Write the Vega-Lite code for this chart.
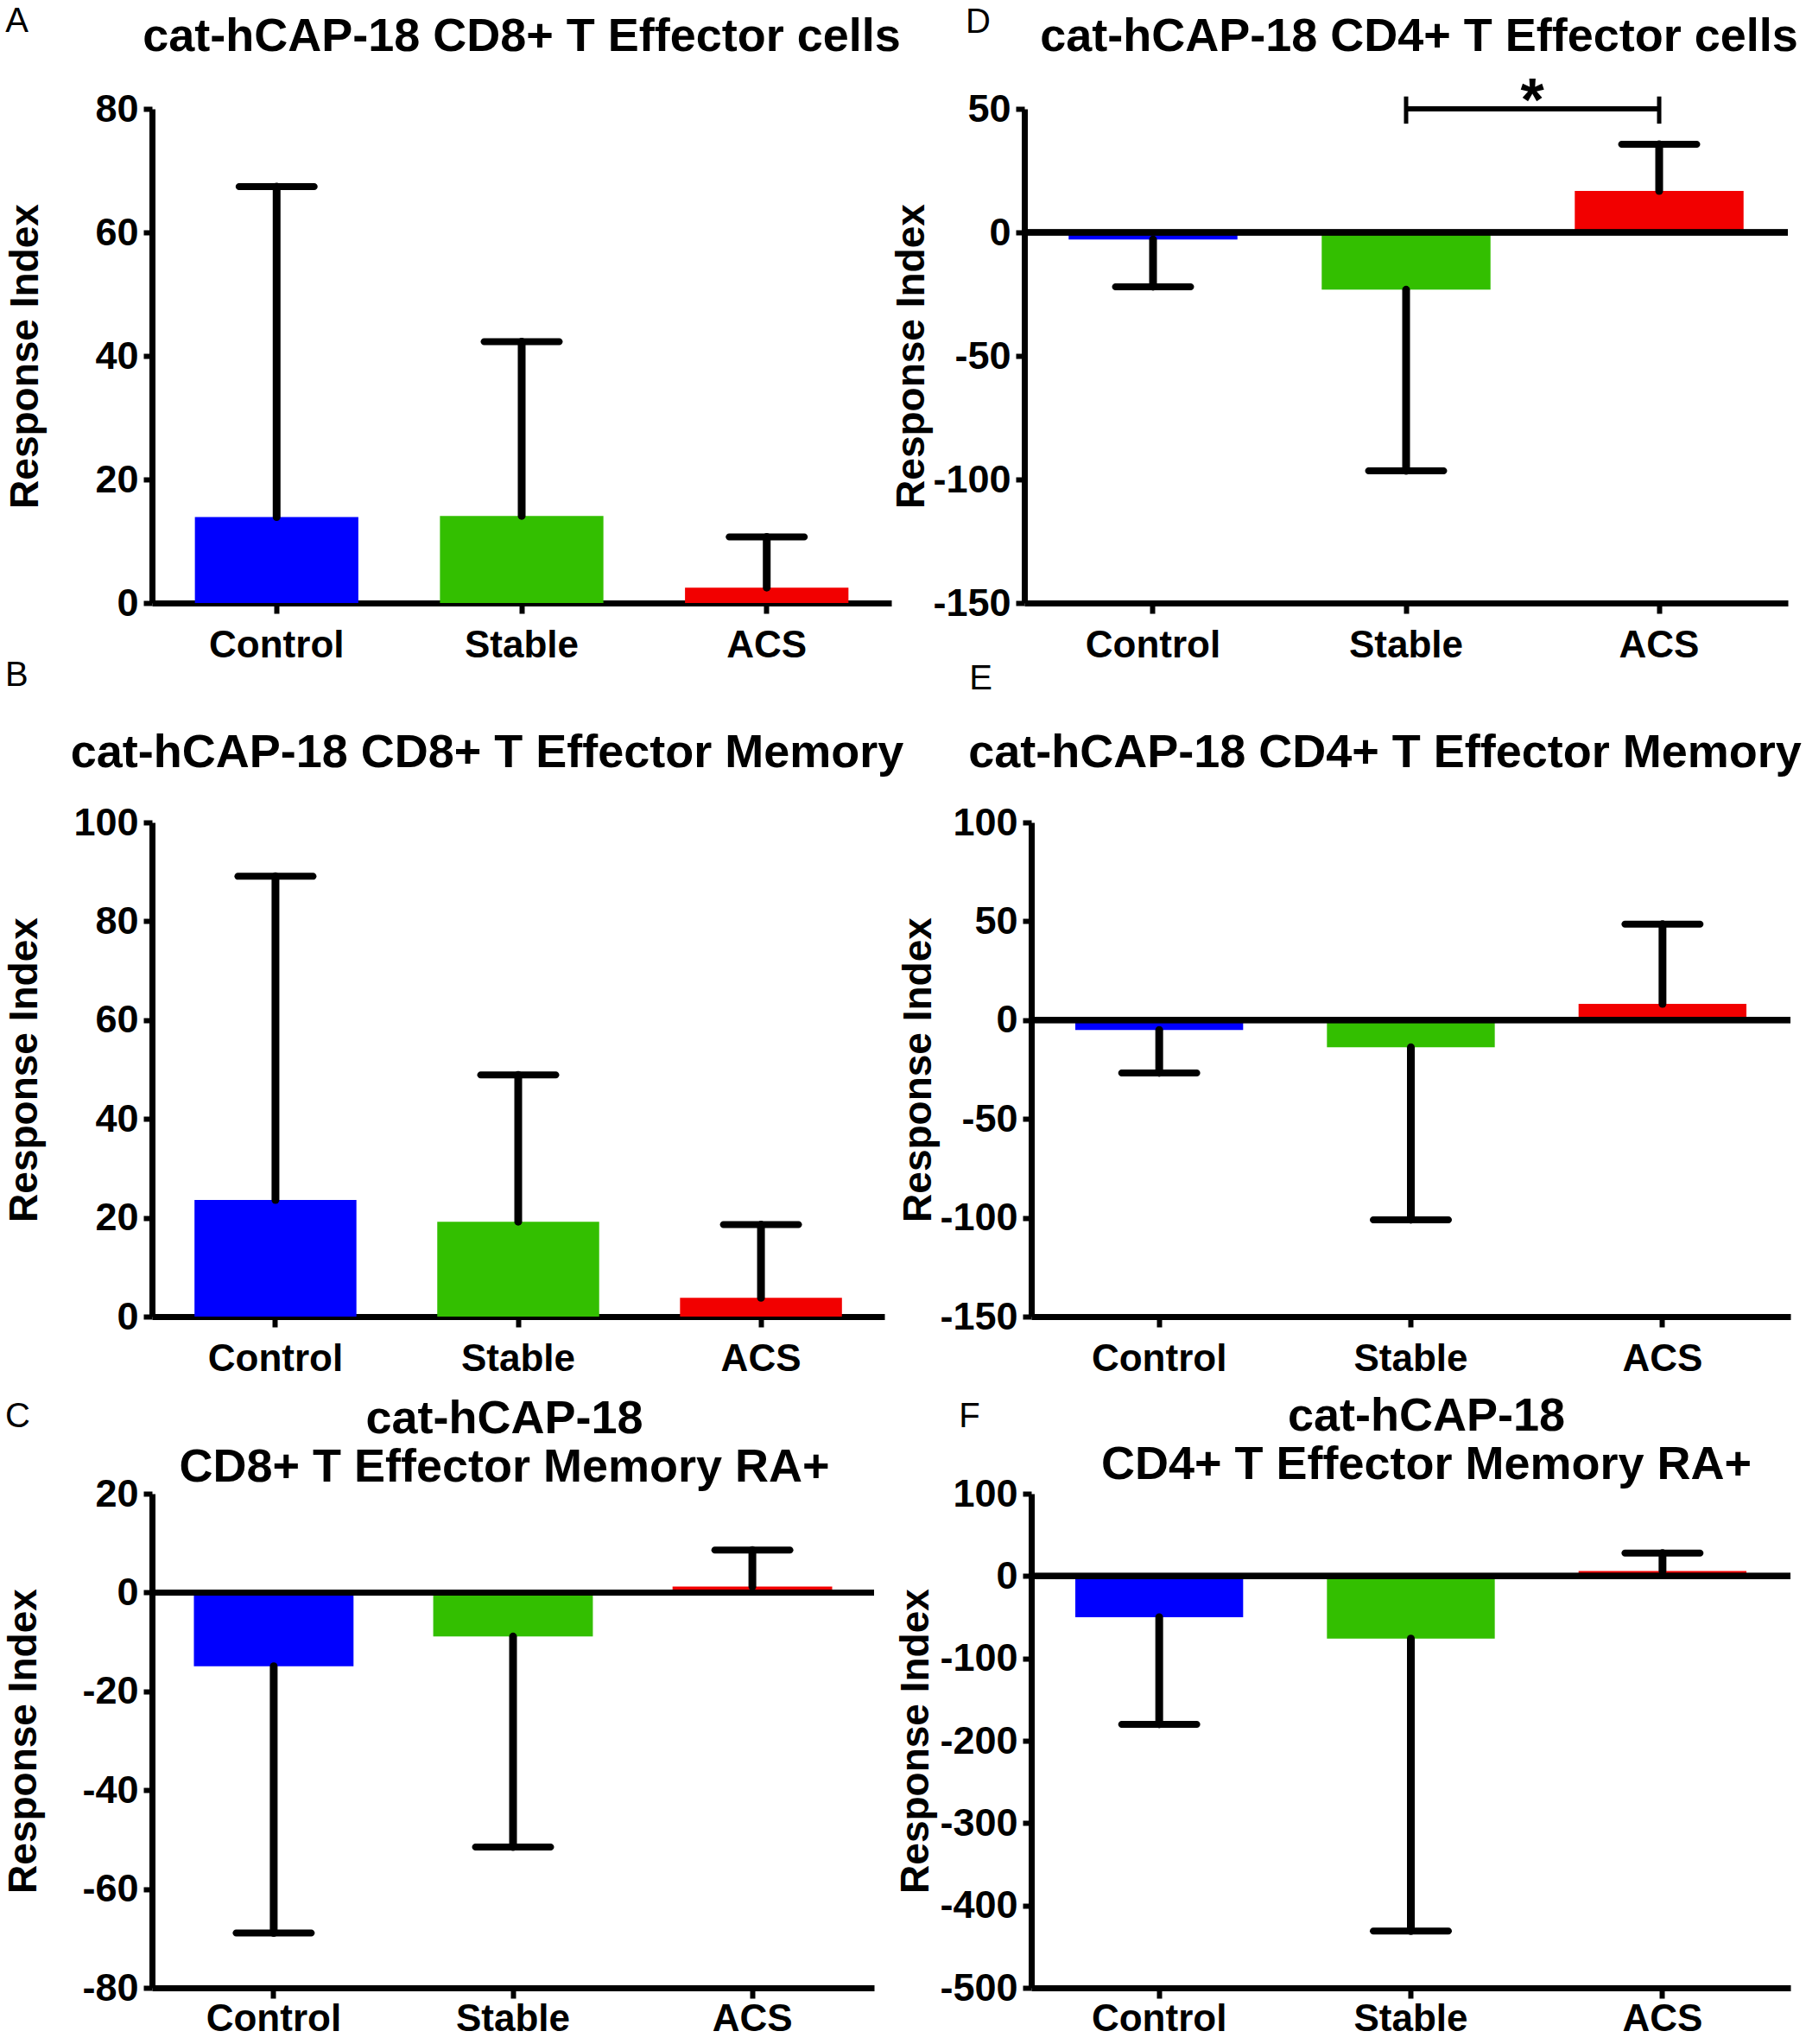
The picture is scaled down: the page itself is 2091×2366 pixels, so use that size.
{
  "$schema": "https://vega.github.io/schema/vega-lite/v6.json",
  "background": "white",
  "padding": {"left": 4, "top": 5, "right": 5, "bottom": 2},
  "datasets": {
    "A": [
      {"group": "Control", "value": 13.9, "err": 67.4},
      {"group": "Stable", "value": 14.1, "err": 42.3},
      {"group": "ACS", "value": 2.5, "err": 10.7}
    ],
    "B": [
      {"group": "Control", "value": 23.6, "err": 89.1},
      {"group": "Stable", "value": 19.2, "err": 48.9},
      {"group": "ACS", "value": 3.8, "err": 18.6}
    ],
    "C": [
      {"group": "Control", "value": -14.9, "err": -68.9},
      {"group": "Stable", "value": -8.9, "err": -51.5},
      {"group": "ACS", "value": 1.2, "err": 8.6}
    ],
    "D": [
      {"group": "Control", "value": -2.9, "err": -22},
      {"group": "Stable", "value": -23.2, "err": -96.5},
      {"group": "ACS", "value": 16.8, "err": 35.7}
    ],
    "E": [
      {"group": "Control", "value": -5, "err": -26.7},
      {"group": "Stable", "value": -13.8, "err": -101},
      {"group": "ACS", "value": 8.2, "err": 48.5}
    ],
    "F": [
      {"group": "Control", "value": -50, "err": -180},
      {"group": "Stable", "value": -76, "err": -431},
      {"group": "ACS", "value": 6, "err": 28}
    ]
  },
  "config": {
    "view": {"stroke": null},
    "font": "Liberation Sans",
    "title": {"font": "Liberation Sans", "fontSize": 54, "fontWeight": "bold", "color": "black", "anchor": "middle", "frame": "group"},
    "axis": {
      "grid": false,
      "zindex": 1,
      "domainColor": "black",
      "domainWidth": 7,
      "tickColor": "black",
      "tickWidth": 6,
      "labelColor": "black",
      "labelFont": "Liberation Sans",
      "labelFontWeight": "bold",
      "titleFont": "Liberation Sans",
      "titleFontWeight": "bold",
      "titleColor": "black"
    },
    "axisX": {"labelAngle": 0, "labelFontSize": 44, "tickSize": 12, "labelPadding": 15, "title": null},
    "axisY": {"labelFontSize": 45, "tickSize": 10, "labelPadding": 6, "titleFontSize": 46},
    "text": {"color": "black"}
  },
  "spacing": 18,
  "vconcat": [
    {
      "spacing": -7,
      "vconcat": [
        {
          "bounds": "flush",
          "spacing": 154,
          "hconcat": [
            {
              "title": {"text": "cat-hCAP-18 CD8+ T Effector cells", "offset": -65},
              "width": 856,
              "height": 572,
              "data": {"name": "A"},
              "layer": [
                {
                  "mark": {"type": "bar"},
                  "encoding": {
                    "x": {"field": "group", "type": "nominal", "scale": {"domain": ["Control", "Stable", "ACS"], "paddingInner": 0.333, "paddingOuter": 0.175}, "title": null},
                    "y": {"field": "value", "type": "quantitative", "title": "Response Index", "scale": {"domain": [0, 80], "nice": false}, "axis": {"values": [0, 20, 40, 60, 80], "labelExpr": "'' + datum.value", "titlePadding": 56}},
                    "color": {"field": "group", "type": "nominal", "scale": {"domain": ["Control", "Stable", "ACS"], "range": ["#0000ff", "#33bf00", "#f20000"]}, "legend": null}
                  }
                },
                {
                  "mark": {"type": "rule", "color": "black", "strokeWidth": 9, "strokeCap": "round"},
                  "encoding": {
                    "x": {"field": "group", "type": "nominal"},
                    "y": {"field": "value", "type": "quantitative", "title": "Response Index"},
                    "y2": {"field": "err"}
                  }
                },
                {
                  "mark": {"type": "tick", "color": "black", "opacity": 1, "size": 95, "thickness": 8, "cornerRadius": 4},
                  "encoding": {
                    "x": {"field": "group", "type": "nominal"},
                    "y": {"field": "err", "type": "quantitative", "title": "Response Index"}
                  }
                },
                {
                  "data": {"values": [{"letter": "A"}]},
                  "mark": {"type": "text", "align": "left", "baseline": "top", "fontSize": 40, "dx": -314, "dy": -121},
                  "encoding": {
                    "x": {"datum": "Control"},
                    "y": {"datum": 80, "type": "quantitative"},
                    "text": {"field": "letter"}
                  }
                }
              ]
            },
            {
              "title": {"text": "cat-hCAP-18 CD4+ T Effector cells", "offset": -64, "dx": 15},
              "width": 884,
              "height": 572,
              "data": {"name": "D"},
              "layer": [
                {
                  "mark": {"type": "bar"},
                  "encoding": {
                    "x": {"field": "group", "type": "nominal", "scale": {"domain": ["Control", "Stable", "ACS"], "paddingInner": 0.333, "paddingOuter": 0.175}, "title": null},
                    "y": {"field": "value", "type": "quantitative", "title": "Response Index", "scale": {"domain": [-150, 50], "nice": false, "zero": false}, "axis": {"values": [-150, -100, -50, 0, 50], "labelExpr": "'' + datum.value", "titlePadding": 0}},
                    "color": {"field": "group", "type": "nominal", "scale": {"domain": ["Control", "Stable", "ACS"], "range": ["#0000ff", "#33bf00", "#f20000"]}, "legend": null}
                  }
                },
                {
                  "mark": {"type": "rule", "color": "black", "strokeWidth": 7},
                  "encoding": {"y": {"datum": 0, "type": "quantitative"}}
                },
                {
                  "mark": {"type": "rule", "color": "black", "strokeWidth": 9, "strokeCap": "round"},
                  "encoding": {
                    "x": {"field": "group", "type": "nominal"},
                    "y": {"field": "value", "type": "quantitative", "title": "Response Index"},
                    "y2": {"field": "err"}
                  }
                },
                {
                  "mark": {"type": "tick", "color": "black", "opacity": 1, "size": 95, "thickness": 8, "cornerRadius": 4},
                  "encoding": {
                    "x": {"field": "group", "type": "nominal"},
                    "y": {"field": "err", "type": "quantitative", "title": "Response Index"}
                  }
                },
                {
                  "data": {"values": [{"from": "Stable", "to": "ACS", "level": 50}]},
                  "mark": {"type": "rule", "color": "black", "strokeWidth": 6},
                  "encoding": {
                    "x": {"field": "from", "type": "nominal"},
                    "x2": {"field": "to"},
                    "y": {"field": "level", "type": "quantitative", "title": "Response Index"}
                  }
                },
                {
                  "data": {"values": [{"group": "Stable", "lo": 44, "hi": 55}, {"group": "ACS", "lo": 44, "hi": 55}]},
                  "mark": {"type": "rule", "color": "black", "strokeWidth": 5},
                  "encoding": {
                    "x": {"field": "group", "type": "nominal"},
                    "y": {"field": "lo", "type": "quantitative", "title": "Response Index"},
                    "y2": {"field": "hi"}
                  }
                },
                {
                  "data": {"values": [{"label": "*", "group": "ACS", "level": 50}]},
                  "mark": {"type": "text", "fontSize": 70, "fontWeight": "bold", "baseline": "alphabetic", "dx": -147, "dy": 14},
                  "encoding": {
                    "x": {"field": "group", "type": "nominal"},
                    "y": {"field": "level", "type": "quantitative", "title": "Response Index"},
                    "text": {"field": "label"}
                  }
                },
                {
                  "data": {"values": [{"letter": "D"}]},
                  "mark": {"type": "text", "align": "left", "baseline": "top", "fontSize": 40, "dx": -217, "dy": -120},
                  "encoding": {
                    "x": {"datum": "Control"},
                    "y": {"datum": 50, "type": "quantitative"},
                    "text": {"field": "letter"}
                  }
                }
              ]
            }
          ]
        },
        {
          "bounds": "flush",
          "spacing": 170,
          "hconcat": [
            {
              "title": {"text": "cat-hCAP-18 CD8+ T Effector Memory", "offset": -137, "dx": -36},
              "width": 848,
              "height": 572,
              "data": {"name": "B"},
              "layer": [
                {
                  "mark": {"type": "bar"},
                  "encoding": {
                    "x": {"field": "group", "type": "nominal", "scale": {"domain": ["Control", "Stable", "ACS"], "paddingInner": 0.333, "paddingOuter": 0.175}, "title": null},
                    "y": {"field": "value", "type": "quantitative", "title": "Response Index", "scale": {"domain": [0, 100], "nice": false}, "axis": {"values": [0, 20, 40, 60, 80, 100], "labelExpr": "'' + datum.value", "titlePadding": 32}},
                    "color": {"field": "group", "type": "nominal", "scale": {"domain": ["Control", "Stable", "ACS"], "range": ["#0000ff", "#33bf00", "#f20000"]}, "legend": null}
                  }
                },
                {
                  "mark": {"type": "rule", "color": "black", "strokeWidth": 9, "strokeCap": "round"},
                  "encoding": {
                    "x": {"field": "group", "type": "nominal"},
                    "y": {"field": "value", "type": "quantitative", "title": "Response Index"},
                    "y2": {"field": "err"}
                  }
                },
                {
                  "mark": {"type": "tick", "color": "black", "opacity": 1, "size": 95, "thickness": 8, "cornerRadius": 4},
                  "encoding": {
                    "x": {"field": "group", "type": "nominal"},
                    "y": {"field": "err", "type": "quantitative", "title": "Response Index"}
                  }
                },
                {
                  "data": {"values": [{"letter": "B"}]},
                  "mark": {"type": "text", "align": "left", "baseline": "top", "fontSize": 40, "dx": -313, "dy": -190},
                  "encoding": {
                    "x": {"datum": "Control"},
                    "y": {"datum": 100, "type": "quantitative"},
                    "text": {"field": "letter"}
                  }
                }
              ]
            },
            {
              "title": {"text": "cat-hCAP-18 CD4+ T Effector Memory", "offset": -133, "dx": -30},
              "width": 879,
              "height": 572,
              "data": {"name": "E"},
              "layer": [
                {
                  "mark": {"type": "bar"},
                  "encoding": {
                    "x": {"field": "group", "type": "nominal", "scale": {"domain": ["Control", "Stable", "ACS"], "paddingInner": 0.333, "paddingOuter": 0.175}, "title": null},
                    "y": {"field": "value", "type": "quantitative", "title": "Response Index", "scale": {"domain": [-150, 100], "nice": false, "zero": false}, "axis": {"values": [-150, -100, -50, 0, 50, 100], "labelExpr": "'' + datum.value", "titlePadding": 0}},
                    "color": {"field": "group", "type": "nominal", "scale": {"domain": ["Control", "Stable", "ACS"], "range": ["#0000ff", "#33bf00", "#f20000"]}, "legend": null}
                  }
                },
                {
                  "mark": {"type": "rule", "color": "black", "strokeWidth": 7},
                  "encoding": {"y": {"datum": 0, "type": "quantitative"}}
                },
                {
                  "mark": {"type": "rule", "color": "black", "strokeWidth": 9, "strokeCap": "round"},
                  "encoding": {
                    "x": {"field": "group", "type": "nominal"},
                    "y": {"field": "value", "type": "quantitative", "title": "Response Index"},
                    "y2": {"field": "err"}
                  }
                },
                {
                  "mark": {"type": "tick", "color": "black", "opacity": 1, "size": 95, "thickness": 8, "cornerRadius": 4},
                  "encoding": {
                    "x": {"field": "group", "type": "nominal"},
                    "y": {"field": "err", "type": "quantitative", "title": "Response Index"}
                  }
                },
                {
                  "data": {"values": [{"letter": "E"}]},
                  "mark": {"type": "text", "align": "left", "baseline": "top", "fontSize": 40, "dx": -220, "dy": -186},
                  "encoding": {
                    "x": {"datum": "Control"},
                    "y": {"datum": 100, "type": "quantitative"},
                    "text": {"field": "letter"}
                  }
                }
              ]
            }
          ]
        }
      ]
    },
    {
      "bounds": "flush",
      "spacing": 182,
      "hconcat": [
        {
          "title": {"text": ["cat-hCAP-18", "CD8+ T Effector Memory RA+"], "lineHeight": 56, "offset": -106, "dx": -10},
          "width": 836,
          "height": 572,
          "data": {"name": "C"},
          "layer": [
            {
              "mark": {"type": "bar"},
              "encoding": {
                "x": {"field": "group", "type": "nominal", "scale": {"domain": ["Control", "Stable", "ACS"], "paddingInner": 0.333, "paddingOuter": 0.175}, "title": null, "axis": {"labelPadding": 2}},
                "y": {"field": "value", "type": "quantitative", "title": "Response Index", "scale": {"domain": [-80, 20], "nice": false, "zero": false}, "axis": {"values": [-80, -60, -40, -20, 0, 20], "labelExpr": "'' + datum.value", "titlePadding": 43}},
                "color": {"field": "group", "type": "nominal", "scale": {"domain": ["Control", "Stable", "ACS"], "range": ["#0000ff", "#33bf00", "#f20000"]}, "legend": null}
              }
            },
            {
              "mark": {"type": "rule", "color": "black", "strokeWidth": 7},
              "encoding": {"y": {"datum": 0, "type": "quantitative"}}
            },
            {
              "mark": {"type": "rule", "color": "black", "strokeWidth": 9, "strokeCap": "round"},
              "encoding": {
                "x": {"field": "group", "type": "nominal"},
                "y": {"field": "value", "type": "quantitative", "title": "Response Index"},
                "y2": {"field": "err"}
              }
            },
            {
              "mark": {"type": "tick", "color": "black", "opacity": 1, "size": 95, "thickness": 8, "cornerRadius": 4},
              "encoding": {
                "x": {"field": "group", "type": "nominal"},
                "y": {"field": "err", "type": "quantitative", "title": "Response Index"}
              }
            },
            {
              "data": {"values": [{"letter": "C"}]},
              "mark": {"type": "text", "align": "left", "baseline": "top", "fontSize": 40, "dx": -311, "dy": -109},
              "encoding": {
                "x": {"datum": "Control"},
                "y": {"datum": 20, "type": "quantitative"},
                "text": {"field": "letter"}
              }
            }
          ]
        },
        {
          "title": {"text": ["cat-hCAP-18", "CD4+ T Effector Memory RA+"], "lineHeight": 56, "offset": -103, "dx": 18},
          "width": 879,
          "height": 572,
          "data": {"name": "F"},
          "layer": [
            {
              "mark": {"type": "bar"},
              "encoding": {
                "x": {"field": "group", "type": "nominal", "scale": {"domain": ["Control", "Stable", "ACS"], "paddingInner": 0.333, "paddingOuter": 0.175}, "title": null, "axis": {"labelPadding": 2}},
                "y": {"field": "value", "type": "quantitative", "title": "Response Index", "scale": {"domain": [-500, 100], "nice": false, "zero": false}, "axis": {"values": [-500, -400, -300, -200, -100, 0, 100], "labelExpr": "'' + datum.value", "titlePadding": 3}},
                "color": {"field": "group", "type": "nominal", "scale": {"domain": ["Control", "Stable", "ACS"], "range": ["#0000ff", "#33bf00", "#f20000"]}, "legend": null}
              }
            },
            {
              "mark": {"type": "rule", "color": "black", "strokeWidth": 7},
              "encoding": {"y": {"datum": 0, "type": "quantitative"}}
            },
            {
              "mark": {"type": "rule", "color": "black", "strokeWidth": 9, "strokeCap": "round"},
              "encoding": {
                "x": {"field": "group", "type": "nominal"},
                "y": {"field": "value", "type": "quantitative", "title": "Response Index"},
                "y2": {"field": "err"}
              }
            },
            {
              "mark": {"type": "tick", "color": "black", "opacity": 1, "size": 95, "thickness": 8, "cornerRadius": 4},
              "encoding": {
                "x": {"field": "group", "type": "nominal"},
                "y": {"field": "err", "type": "quantitative", "title": "Response Index"}
              }
            },
            {
              "data": {"values": [{"letter": "F"}]},
              "mark": {"type": "text", "align": "left", "baseline": "top", "fontSize": 40, "dx": -232, "dy": -109},
              "encoding": {
                "x": {"datum": "Control"},
                "y": {"datum": 100, "type": "quantitative"},
                "text": {"field": "letter"}
              }
            }
          ]
        }
      ]
    }
  ]
}
